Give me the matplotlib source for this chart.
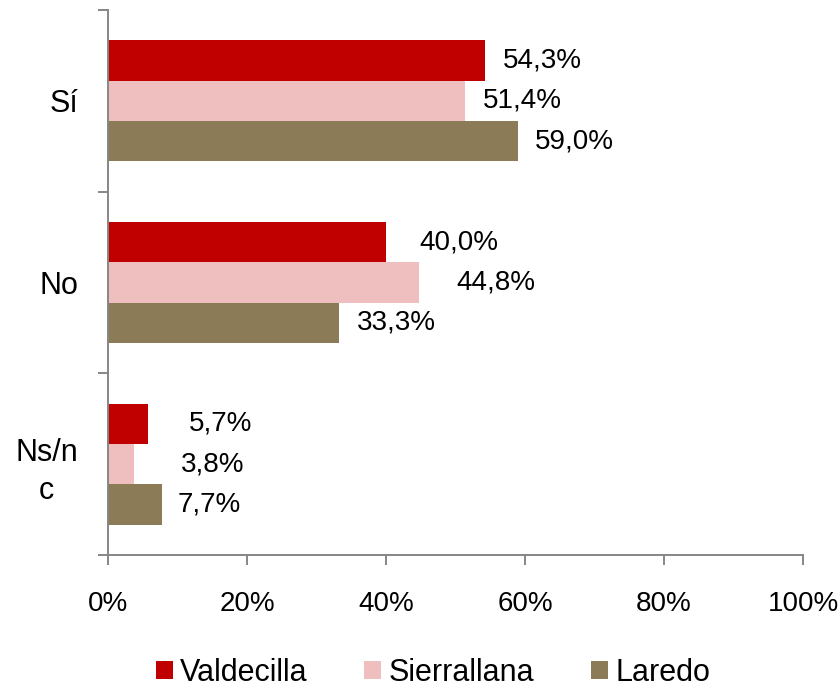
import numpy as np
from matplotlib import pyplot as plt

categories = ['Sí', 'No', 'Ns/n\nc']
series = ['Valdecilla', 'Sierrallana', 'Laredo']
valdecilla = [54.3, 40.0, 5.7]
sierrallana = [51.4, 44.8, 3.8]
laredo = [59.0, 33.3, 7.7]
xticks = [0, 20, 40, 60, 80, 100]

colors = ['#C00000', '#EFBFBF', '#8B7B57']
# label offsets in pixels from the bar end (hand placed in the original)
label_dx = [[17, 33, 41], [18, 37, 46], [17, 17, 16]]

font = ['Liberation Sans', 'DejaVu Sans']
fs_num = 20
fs_txt = 22
axis_col = '#868686'

fig = plt.figure(figsize=(8.4, 6.88), dpi=100)
ax = fig.add_axes([108/840, 1-555/688, 695/840, 545/688])

h = 0.6667 / 3
centers = np.arange(len(categories)) + 0.5
for k, vals in enumerate([valdecilla, sierrallana, laredo]):
    ys = centers + (k - 1) * h
    ax.barh(ys, vals, height=h, color=colors[k], label=series[k])
    for y, v, dx in zip(ys, vals, label_dx[k]):
        ax.annotate(f'{v:.1f}%'.replace('.', ','), (v, y), xytext=(dx, 0),
                    textcoords='offset pixels', va='center', ha='left',
                    fontsize=fs_num, family=font)

ax.set_xlim(0, 100)
ax.set_ylim(3, 0)
ax.set_xticks(xticks)
ax.set_xticklabels([f'{t}%' for t in xticks], family=font, fontsize=fs_num)
ax.set_yticks([0, 1, 2, 3])
ax.set_yticklabels([])
ax.set_yticks(centers, minor=True)
ax.set_yticklabels(categories, minor=True, family=font, fontsize=fs_txt)
for lab in ax.get_yticklabels(minor=True):
    lab.set_multialignment('center')
    lab.set_linespacing(1.35)

ax.tick_params(axis='y', which='major', length=7.2, width=1.4, color=axis_col)
ax.tick_params(axis='y', which='minor', length=0, pad=21.6)
ax.tick_params(axis='x', length=7.2, width=1.4, color=axis_col, pad=19)
for s in ['top', 'right']:
    ax.spines[s].set_visible(False)
for s in ['left', 'bottom']:
    ax.spines[s].set_color(axis_col)
    ax.spines[s].set_linewidth(1.4)

fig.legend(loc='center', bbox_to_anchor=(433/840, 1-673/688), ncol=3,
           frameon=False, prop={'family': font, 'size': fs_txt},
           handlelength=0.55, handleheight=0.55, handletextpad=0.25,
           columnspacing=1.85, borderpad=0)

fig.savefig('out.png', dpi=100)
